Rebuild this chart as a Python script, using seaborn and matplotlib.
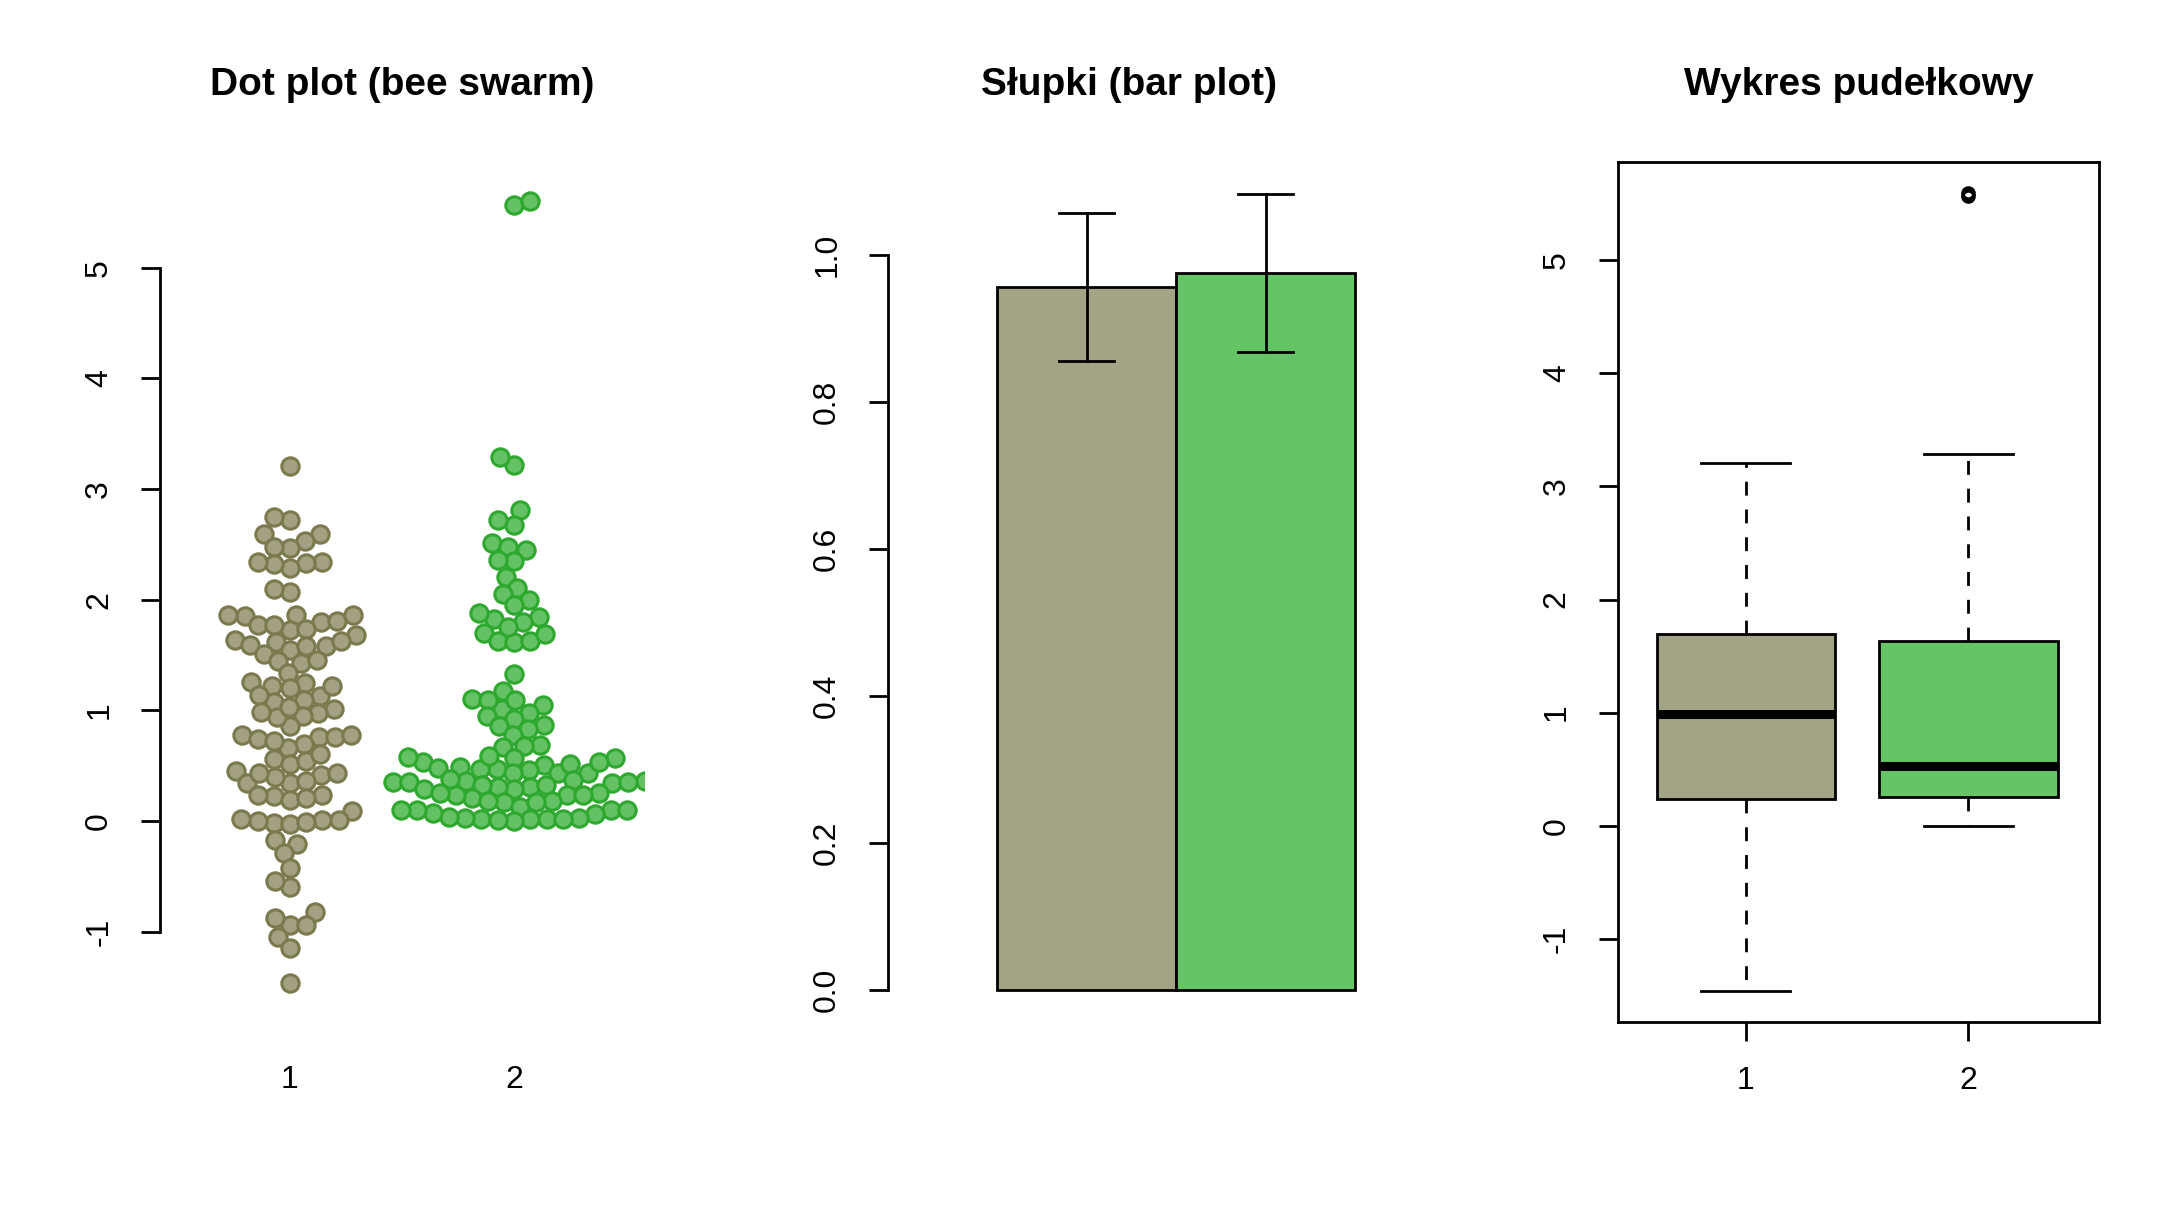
import pandas as pd
import matplotlib
matplotlib.use('Agg')
import matplotlib.pyplot as plt
import seaborn as sns
import numpy as np

groups = ['1', '2']
group1 = [3.21, 2.72, 2.75, 2.59, 2.59, 2.53, 2.47, 2.48, 2.34, 2.33, 2.29, 2.32, 2.34, 2.07, 2.10,
          1.86, 1.85, 1.80, 1.77, 1.73, 1.86, 1.74, 1.77, 1.81, 1.86,
          1.68, 1.62, 1.64, 1.58, 1.55, 1.59, 1.58, 1.63, 1.51, 1.45, 1.43, 1.46, 1.34,
          1.25, 1.20, 1.13, 1.22, 1.26, 1.22, 1.08, 1.09, 1.14,
          1.01, 0.98, 0.95, 0.86, 0.94, 0.99, 1.03,
          0.78, 0.76, 0.74, 0.70, 0.66, 0.72, 0.76, 0.78, 0.56, 0.52, 0.54, 0.61,
          0.45, 0.34, 0.42, 0.40, 0.34, 0.36, 0.43, 0.43,
          0.24, 0.23, 0.19, 0.21, 0.24,
          0.09, 0.01, 0.01, -0.02, -0.03, -0.01, 0.00, 0.02,
          -0.21, -0.17, -0.29, -0.42, -0.60, -0.54,
          -0.82, -0.94, -0.94, -0.88, -1.05, -1.15, -1.46]
group2 = [5.57, 5.60, 3.22, 3.29, 2.81, 2.68, 2.72, 2.45, 2.51, 2.48, 2.35, 2.36,
          2.21, 2.11, 2.05, 2.00, 1.95, 1.84, 1.80, 1.83, 1.88,
          1.70, 1.63, 1.62, 1.63, 1.69, 1.75,
          1.33, 1.18, 1.10, 1.05, 1.01, 1.09, 1.09, 0.98, 0.95, 0.92, 0.87, 0.86, 0.83,
          0.78, 0.69, 0.68, 0.67,
          0.53, 0.57, 0.51, 0.49, 0.47, 0.57, 0.43, 0.46, 0.47, 0.58, 0.43, 0.52, 0.53, 0.48, 0.59,
          0.43, 0.37, 0.36, 0.34, 0.31, 0.29, 0.31, 0.33, 0.36, 0.38, 0.33, 0.35, 0.35, 0.35, 0.29,
          0.24, 0.25, 0.21, 0.18, 0.17, 0.13, 0.17, 0.18, 0.24, 0.24, 0.25,
          0.10, 0.10, 0.06, 0.03, 0.02, 0.02, 0.02, 0.00, 0.01, 0.02, 0.03, 0.04, 0.07, 0.10, 0.10]
titles = ['Dot plot (bee swarm)', 'Słupki (bar plot)', 'Wykres pudełkowy']

fill_colors = ['#a3a385', '#64c466']
dot_fill = ['#a2a282', '#64c264']
dot_edge = ['#7a7a4e', '#2ea82e']

df = pd.DataFrame({
    'grupa': ['1'] * len(group1) + ['2'] * len(group2),
    'wartosc': group1 + group2,
})

plt.rcParams['font.family'] = ['Liberation Sans', 'DejaVu Sans']
plt.rcParams['axes.linewidth'] = 2.0
plt.rcParams['axes.unicode_minus'] = False

# let the swarm spread wider than seaborn's 0.8 band, like R's beeswarm does
sns.categorical.Beeswarm.add_gutters = lambda self, points, center, *args, **kwargs: points

fig = plt.figure(figsize=(21.83, 12.25), dpi=100)
ax1 = fig.add_axes([0.0733, 0.1657, 0.2217, 0.7024])
ax2 = fig.add_axes([0.4068, 0.1657, 0.2208, 0.7024])
ax3 = fig.add_axes([0.7410, 0.1657, 0.2207, 0.7024])

tick_size = 23
title_size = 28

# Panel 1: bee swarm
for i, g in enumerate(groups):
    sns.swarmplot(data=df[df['grupa'] == g], x='grupa', y='wartosc', order=groups,
                  color=dot_fill[i], edgecolor=dot_edge[i], linewidth=1.6, size=9.6, ax=ax1)
ax1.set_xlim(-0.58, 1.58)
ax1.set_ylim(-1.816, 5.96)
ax1.set_yticks(range(-1, 6))
ax1.spines[['top', 'right', 'bottom']].set_visible(False)
ax1.spines['left'].set_bounds(-1, 5)
ax1.tick_params(axis='x', length=0, pad=31, labelsize=tick_size)
ax1.tick_params(axis='y', length=14, width=2, pad=19, labelsize=tick_size)

# Panel 2: mean with standard error
sns.barplot(data=df, x='grupa', y='wartosc', hue='grupa', order=groups, palette=fill_colors,
            saturation=1, legend=False, errorbar='se', capsize=0.31, width=1.0,
            edgecolor='black', linewidth=2,
            err_kws={'color': 'black', 'linewidth': 2}, ax=ax2)
ax2.set_xlim(-1.109, 1.584)
ax2.set_ylim(-0.0435, 1.127)
ax2.set_yticks(np.arange(0, 1.01, 0.2))
ax2.set_yticklabels(['0.0', '0.2', '0.4', '0.6', '0.8', '1.0'])
ax2.spines[['top', 'right', 'bottom']].set_visible(False)
ax2.spines['left'].set_bounds(0, 1)
ax2.set_xticks([])
ax2.tick_params(axis='y', length=14, width=2, pad=19, labelsize=tick_size)

# Panel 3: box plot
sns.boxplot(data=df, x='grupa', y='wartosc', hue='grupa', order=groups, palette=fill_colors,
            saturation=1, legend=False, width=0.8, whis=1.5, linecolor='black', linewidth=2,
            whiskerprops={'linestyle': (0, (5, 5))},
            medianprops={'linewidth': 6.5},
            flierprops={'marker': 'o', 'markerfacecolor': 'none', 'markeredgecolor': 'black',
                        'markersize': 8, 'markeredgewidth': 2.5},
            ax=ax3)
ax3.set_xlim(-0.575, 1.588)
ax3.set_ylim(-1.737, 5.874)
ax3.set_yticks(range(-1, 6))
ax3.tick_params(axis='x', length=14, width=2, pad=18, labelsize=tick_size)
ax3.tick_params(axis='y', length=14, width=2, pad=19, labelsize=tick_size)

for ax, t in zip([ax1, ax2, ax3], titles):
    ax.set_title(t, fontsize=title_size, fontweight='bold', pad=48)
    ax.set_xlabel('')
    ax.set_ylabel('')
    ax.set_facecolor('white')
    for lab in ax.get_yticklabels():
        lab.set_rotation(90)
        lab.set_va('center')

# Lay the swarm out once, then keep the positions and draw the dots
# larger so neighbours touch/overlap like R's beeswarm
fig.canvas.draw()
for coll in ax1.collections:
    if 'draw' in coll.__dict__:
        del coll.draw
    coll.set_sizes([12.5 ** 2])
    coll.set_linewidth(2.2)

fig.savefig('out.png', dpi=100, facecolor='white')
